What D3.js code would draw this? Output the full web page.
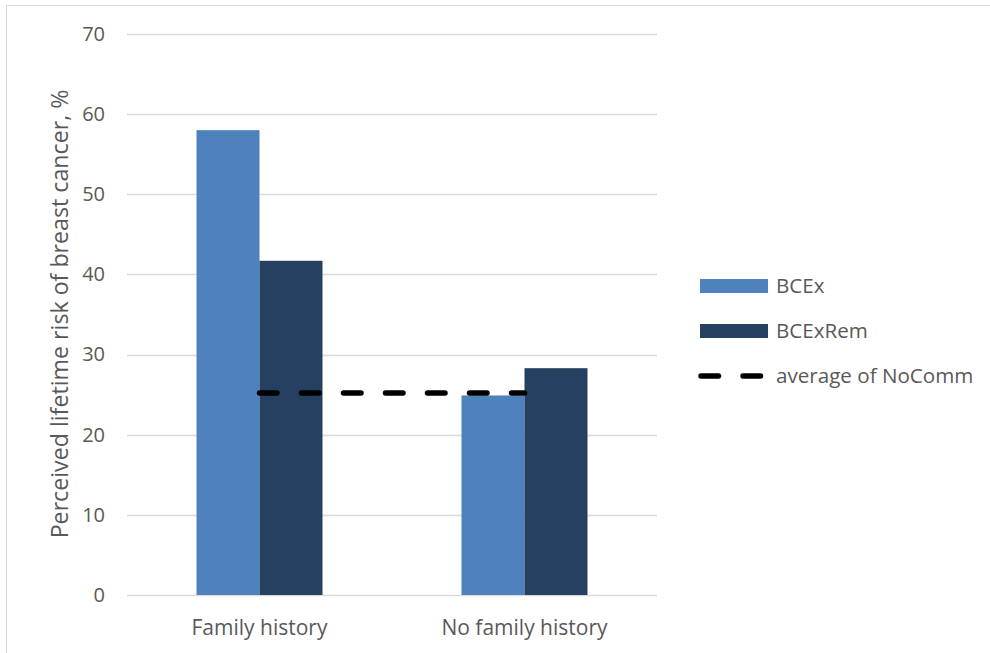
<!DOCTYPE html>
<html>
<head>
<meta charset="utf-8">
<script src="https://cdn.jsdelivr.net/npm/d3@7"></script>
<style>
  html, body { margin: 0; padding: 0; background: #fff; }
  svg { display: block; font-family: "Open Sans", sans-serif; }
</style>
</head>
<body>
<svg id="chart" width="990" height="653"></svg>
<script>
// Perceived lifetime risk by family history
const categories = ["Family history", "No family history"];
const seriesNames = ["BCEx", "BCExRem"];
const bcex = [58.0, 24.9];
const bcexRem = [41.7, 28.3];
const noCommAverage = [25.2, 25.2];
const yTicks = [0, 10, 20, 30, 40, 50, 60, 70];
const lineName = "average of NoComm";
const yTitle = "Perceived lifetime risk of breast cancer, %";

const colors = { BCEx: "#4F81BD", BCExRem: "#254061" };
const textColor = "#595959";

const svg = d3.select("#chart");
const W = 990, H = 653;
const plot = { left: 127, right: 657, top: 34, bottom: 595 };

// outer frame
svg.append("rect")
  .attr("x", 6.5).attr("y", 5.5)
  .attr("width", W + 10).attr("height", H + 10)
  .attr("fill", "none").attr("stroke", "#d9d9d9").attr("stroke-width", 1);

const x0 = d3.scaleBand().domain(categories).range([plot.left, plot.right]).padding(0);
const groupFrac = 126 / 265;
const x1 = d3.scaleBand().domain(seriesNames)
  .range([0, x0.bandwidth() * groupFrac]).padding(0);
const y = d3.scaleLinear().domain([0, 70]).range([plot.bottom, plot.top]);

// gridlines
svg.append("g").selectAll("line").data(yTicks).join("line")
  .attr("x1", plot.left).attr("x2", plot.right)
  .attr("y1", d => Math.round(y(d)) + 0.5).attr("y2", d => Math.round(y(d)) + 0.5)
  .attr("stroke", "#d9d9d9").attr("stroke-width", 1.3);

// y tick labels
const yAxis = d3.axisLeft(y).tickValues(yTicks).tickSize(0).tickPadding(0);
const gy = svg.append("g").attr("transform", `translate(105,0)`).call(yAxis);
gy.select(".domain").remove();
gy.selectAll("text")
  .attr("fill", textColor).attr("font-size", "20px")
  .attr("font-family", "Open Sans, sans-serif");

// y title
svg.append("text")
  .attr("transform", `translate(68,314) rotate(-90)`)
  .attr("text-anchor", "middle")
  .attr("fill", textColor).attr("font-size", "23.2px")
  .text(yTitle);

// bars
const rows = categories.map((c, i) => ({ cat: c, BCEx: bcex[i], BCExRem: bcexRem[i] }));
const groups = svg.append("g").selectAll("g").data(rows).join("g")
  .attr("transform", d => `translate(${x0(d.cat) + x0.bandwidth() * (1 - groupFrac) / 2},0)`);
groups.selectAll("rect")
  .data(d => seriesNames.map(s => ({ s, v: d[s] })))
  .join("rect")
  .attr("x", d => x1(d.s))
  .attr("width", x1.bandwidth())
  .attr("y", d => y(d.v))
  .attr("height", d => y(0) - y(d.v))
  .attr("fill", d => colors[d.s]);

// x category labels
const xAxis = d3.axisBottom(x0).tickSize(0).tickPadding(0);
const gx = svg.append("g").attr("transform", `translate(0,${plot.bottom + 25})`).call(xAxis);
gx.select(".domain").remove();
gx.selectAll("text")
  .attr("fill", textColor).attr("font-size", "21px")
  .attr("font-family", "Open Sans, sans-serif");

// average line between category centres
const line = d3.line()
  .x((d, i) => x0(categories[i]) + x0.bandwidth() / 2)
  .y(d => y(d));
svg.append("path")
  .datum(noCommAverage)
  .attr("d", line)
  .attr("fill", "none").attr("stroke", "#000")
  .attr("stroke-width", 5.5).attr("stroke-linecap", "round")
  .attr("stroke-dasharray", "17.5 24.5");

// legend
const legend = svg.append("g");
const lx = 700, tx = 776;
[["BCEx", 286], ["BCExRem", 331]].forEach(([s, cy]) => {
  legend.append("rect").attr("x", lx).attr("y", cy - 7).attr("width", 68).attr("height", 14)
    .attr("fill", colors[s]);
  legend.append("text").attr("x", tx).attr("y", cy).attr("dy", "0.35em")
    .attr("fill", textColor).attr("font-size", "20.6px").text(s);
});
legend.append("line")
  .attr("x1", lx + 1).attr("x2", lx + 64).attr("y1", 376).attr("y2", 376)
  .attr("stroke", "#000").attr("stroke-width", 5.5).attr("stroke-linecap", "round")
  .attr("stroke-dasharray", "17.5 24.5");
legend.append("text").attr("x", tx).attr("y", 376).attr("dy", "0.35em")
  .attr("fill", textColor).attr("font-size", "20.6px").text(lineName);
</script>
</body>
</html>
